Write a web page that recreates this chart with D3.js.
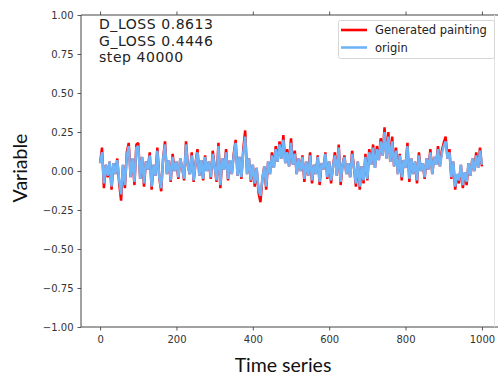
<!DOCTYPE html>
<html>
<head>
<meta charset="utf-8">
<script src="https://cdn.jsdelivr.net/npm/d3@7"></script>
<style>
  body { margin: 0; background: #fff; }
  svg { display: block; }
</style>
</head>
<body>
<svg id="chart"></svg>
<script>
var step = 5;
var originValues = [
  0.05, 0.12, -0.08, 0.04, -0.03, 0.06, -0.10, 0.05, -0.02, 0.07,
  -0.06, -0.15, 0.04, -0.09, 0.10, 0.16, -0.04, 0.08, -0.07, 0.15,
  0.16, -0.05, 0.09, -0.08, 0.06, 0.01, 0.10, -0.10, 0.04, -0.03,
  0.13, -0.04, -0.11, 0.08, 0.17, -0.02, 0.07, -0.06, 0.09, 0.00,
  0.06, -0.04, 0.08, 0.02, -0.05, 0.17, 0.03, -0.02, 0.10, -0.06,
  0.05, 0.12, -0.03, 0.07, -0.05, 0.09, 0.00, 0.06, -0.04, 0.11,
  0.03, -0.06, 0.16, -0.09, 0.08, 0.01, 0.12, -0.05, 0.07, -0.02,
  0.10, 0.18, -0.03, 0.09, -0.04, 0.12, 0.22, -0.02, 0.08, -0.06,
  0.04, -0.08, 0.02, -0.12, -0.16, -0.05, 0.03, -0.10, 0.06, -0.02,
  0.10, 0.02, 0.14, 0.06, 0.17, 0.08, 0.20, 0.05, 0.12, 0.03,
  0.18, 0.04, 0.11, -0.02, 0.08, 0.00, 0.09, -0.05, 0.06, -0.03,
  0.10, -0.06, 0.04, -0.02, 0.09, -0.07, 0.05, 0.01, 0.11, -0.04,
  0.06, -0.06, 0.03, 0.10, -0.03, 0.15, -0.07, 0.04, 0.09, -0.02,
  0.05, -0.04, 0.11, 0.02, -0.08, 0.06, -0.10, 0.03, -0.06, 0.09,
  -0.05, 0.12, 0.04, 0.15, 0.02, 0.14, 0.07, 0.19, 0.10, 0.25,
  0.08, 0.22, 0.06, 0.19, 0.03, 0.13, -0.02, 0.10, -0.04, 0.07,
  0.02, 0.16, -0.05, 0.08, -0.02, 0.06, -0.06, 0.10, 0.00, 0.05,
  -0.04, 0.08, 0.01, 0.12, -0.02, 0.09, 0.04, 0.14, 0.03, 0.11,
  0.16, 0.19, 0.08, 0.12, -0.04, 0.06, -0.10, -0.02, -0.06, 0.04,
  -0.09, -0.01, -0.07, 0.05, -0.03, 0.08, 0.00, 0.10, 0.02, 0.13, 0.04
];
var generatedValues = [
  0.05, 0.15, -0.11, 0.04, -0.04, 0.06, -0.12, 0.05, -0.02, 0.08,
  -0.08, -0.19, 0.04, -0.11, 0.12, 0.18, -0.04, 0.08, -0.09, 0.17,
  0.18, -0.05, 0.09, -0.10, 0.06, 0.01, 0.12, -0.12, 0.04, -0.03,
  0.15, -0.04, -0.13, 0.08, 0.19, -0.02, 0.07, -0.07, 0.11, 0.00,
  0.06, -0.05, 0.08, 0.02, -0.06, 0.19, 0.03, -0.02, 0.12, -0.07,
  0.05, 0.14, -0.03, 0.07, -0.06, 0.10, 0.00, 0.06, -0.05, 0.13,
  0.03, -0.07, 0.18, -0.11, 0.08, 0.01, 0.14, -0.06, 0.07, -0.02,
  0.11, 0.20, -0.03, 0.09, -0.05, 0.14, 0.26, -0.02, 0.08, -0.07,
  0.04, -0.10, 0.02, -0.14, -0.20, -0.05, 0.03, -0.12, 0.06, -0.02,
  0.12, 0.02, 0.16, 0.06, 0.19, 0.08, 0.23, 0.05, 0.14, 0.03,
  0.21, 0.04, 0.13, -0.02, 0.08, 0.00, 0.10, -0.07, 0.06, -0.03,
  0.12, -0.08, 0.04, -0.02, 0.10, -0.09, 0.05, 0.01, 0.12, -0.05,
  0.06, -0.08, 0.03, 0.12, -0.03, 0.17, -0.09, 0.04, 0.10, -0.02,
  0.05, -0.04, 0.13, 0.02, -0.10, 0.06, -0.12, 0.03, -0.08, 0.11,
  -0.06, 0.14, 0.04, 0.17, 0.02, 0.16, 0.07, 0.21, 0.10, 0.28,
  0.08, 0.25, 0.06, 0.22, 0.03, 0.15, -0.02, 0.11, -0.06, 0.07,
  0.02, 0.18, -0.07, 0.08, -0.02, 0.06, -0.08, 0.12, 0.00, 0.05,
  -0.05, 0.08, 0.01, 0.14, -0.02, 0.09, 0.04, 0.16, 0.03, 0.13,
  0.18, 0.22, 0.08, 0.14, -0.05, 0.06, -0.12, -0.02, -0.08, 0.04,
  -0.11, -0.01, -0.09, 0.05, -0.03, 0.08, 0.00, 0.12, 0.02, 0.15, 0.03
];
var xTicks = [0, 200, 400, 600, 800, 1000];
var yTicks = [-1.00, -0.75, -0.50, -0.25, 0.00, 0.25, 0.50, 0.75, 1.00];
var infoLines = ["D_LOSS 0.8613", "G_LOSS 0.4446", "step 40000"];
var seriesNames = ["Generated painting", "origin"];
var seriesColors = ["#ff0000", "#6fb4f7"];

var width = 498, height = 376;
var margin = {top: 15, right: -3, bottom: 49, left: 81};

var svg = d3.select("#chart")
    .attr("width", width)
    .attr("height", height);

var x = d3.scaleLinear()
    .domain([-50, 1050])
    .range([margin.left, width - margin.right]);
var y = d3.scaleLinear()
    .domain([-1, 1])
    .range([height - margin.bottom, margin.top]);

var tickFont = "DejaVu Sans";

// axes
var xAxis = svg.append("g")
    .attr("transform", "translate(0," + y(-1) + ")")
    .call(d3.axisBottom(x).tickValues(xTicks).tickSize(3.5).tickPadding(5).tickFormat(d3.format("d")));
var xAxisTop = svg.append("g")
    .attr("transform", "translate(0," + y(1) + ")")
    .call(d3.axisTop(x).tickValues(xTicks).tickSize(3.5).tickFormat(""));
var yAxis = svg.append("g")
    .attr("transform", "translate(" + x(-50) + ",0)")
    .call(d3.axisLeft(y).tickValues(yTicks).tickSize(3.5).tickPadding(4).tickFormat(d3.format(".2f")));

[xAxis, xAxisTop, yAxis].forEach(function(g) {
  g.select(".domain").remove();
  g.selectAll("line").attr("stroke", "#444").attr("stroke-width", 0.9);
  g.selectAll("text")
      .attr("fill", "#333")
      .style("font-family", tickFont)
      .style("font-size", "10px");
});
yAxis.selectAll("text").text(function(d) { return d3.format(".2f")(d).replace("-", "\u2212"); });

// spines
svg.append("line")
    .attr("x1", x(-50)).attr("x2", x(-50))
    .attr("y1", y(1)).attr("y2", y(-1))
    .attr("stroke", "#444").attr("stroke-width", 1);
svg.append("line")
    .attr("x1", x(-50)).attr("x2", width)
    .attr("y1", y(1)).attr("y2", y(1))
    .attr("stroke", "#444").attr("stroke-width", 1);
svg.append("line")
    .attr("x1", x(-50)).attr("x2", width)
    .attr("y1", y(-1)).attr("y2", y(-1))
    .attr("stroke", "#444").attr("stroke-width", 1);
svg.append("line")
    .attr("x1", 494.5).attr("x2", 494.5)
    .attr("y1", y(1)).attr("y2", y(-1))
    .attr("stroke", "#e4e4e4").attr("stroke-width", 1);

// lines
var line = d3.line()
    .x(function(d, i) { return x(i * step); })
    .y(function(d) { return y(d); });

function drawLine(data, color) {
  svg.append("path")
      .datum(data)
      .attr("d", line)
      .attr("fill", "none")
      .attr("stroke", color)
      .attr("stroke-width", 2.5)
      .attr("stroke-linejoin", "bevel");
}
drawLine(generatedValues, seriesColors[0]);
drawLine(originValues, seriesColors[1]);

// info text
svg.append("g").selectAll("text")
    .data(infoLines)
    .enter().append("text")
    .attr("x", 99)
    .attr("y", function(d, i) { return 29 + i * 16.5; })
    .attr("fill", "#222")
    .style("font-family", tickFont)
    .style("font-size", "14px")
    .style("letter-spacing", "0.55px")
    .text(function(d) { return d; });

// legend
var legend = svg.append("g");
legend.append("rect")
    .attr("x", 338.5).attr("y", 20.5)
    .attr("width", 156).attr("height", 38)
    .attr("rx", 2)
    .attr("fill", "#fff")
    .attr("stroke", "#d6d6d6");
seriesNames.forEach(function(name, i) {
  var ly = 30 + i * 17.5;
  legend.append("line")
      .attr("x1", 341).attr("x2", 367)
      .attr("y1", ly).attr("y2", ly)
      .attr("stroke", seriesColors[i]).attr("stroke-width", 2.6);
  legend.append("text")
      .attr("x", 375).attr("y", ly + 4)
      .attr("fill", "#222")
      .style("font-family", tickFont)
      .style("font-size", "11.5px")
      .text(name);
});

// axis labels
svg.append("text")
    .attr("x", 283).attr("y", 372)
    .attr("text-anchor", "middle")
    .attr("fill", "#111")
    .style("font-family", "Lato")
    .style("font-size", "19.5px")
    .text("Time series");
svg.append("text")
    .attr("transform", "translate(27,168) rotate(-90)")
    .attr("text-anchor", "middle")
    .attr("fill", "#111")
    .style("font-family", "Lato")
    .style("font-size", "19.5px")
    .text("Variable");
</script>
</body>
</html>
